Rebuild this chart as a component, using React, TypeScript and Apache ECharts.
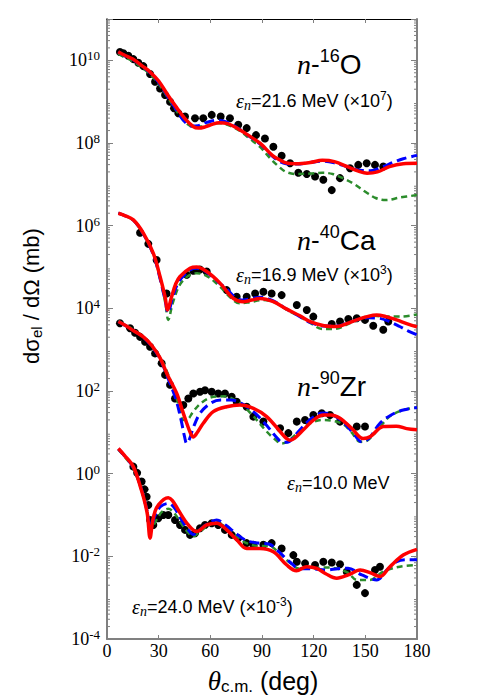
import React, { useEffect, useRef } from 'react';
import * as echarts from 'echarts';

// All cross-section values are stored as log10(dσ/dΩ in mb), angles in degrees.
// n-16O, 21.6 MeV (x1e7)
const O_ptsDeg = [7.5, 9.5, 12.4, 15.3, 18.2, 21.1, 25, 27.9, 30.8, 33.7, 36.6, 38.9, 41.4, 45.3, 51.1, 55.9, 60.8, 66, 71.4, 76.2, 81.1, 86.5, 91.7, 96.6, 101.4, 106.3, 111.1, 116, 120.8, 125.6, 130.5, 135.3, 141.1, 145.9, 150.8, 155.6, 160.4];
const O_ptsLog = [10.2, 10.17, 10.11, 10.03, 9.94, 9.86, 9.67, 9.48, 9.32, 9.16, 9.0, 8.84, 8.72, 8.64, 8.6, 8.6, 8.68, 8.64, 8.6, 8.44, 8.36, 8.19, 8.11, 7.91, 7.69, 7.51, 7.28, 7.25, 7.19, 7.11, 6.86, 7.15, 7.39, 7.47, 7.51, 7.47, 7.43];
const O_redDeg = [6.5, 10, 15, 21, 25, 30, 35, 40, 45, 50, 53, 57, 61, 65, 70, 77, 83, 89, 96, 100, 104, 110, 118, 125, 132, 140, 146, 151, 157, 164, 172, 180];
const O_redLog = [10.21, 10.13, 10.03, 9.85, 9.72, 9.5, 9.18, 8.88, 8.6, 8.4, 8.36, 8.39, 8.45, 8.49, 8.47, 8.32, 8.16, 7.99, 7.7, 7.6, 7.52, 7.5, 7.53, 7.58, 7.55, 7.42, 7.32, 7.27, 7.3, 7.43, 7.5, 7.51];
const O_blueDeg = [6.5, 10, 15, 21, 25, 30, 35, 40, 45, 49, 53, 58, 64, 70, 77, 83, 89, 96, 100, 104, 110, 118, 125, 132, 140, 147, 153, 160, 166, 172, 180];
const O_blueLog = [10.2, 10.12, 10.02, 9.84, 9.7, 9.47, 9.14, 8.82, 8.52, 8.41, 8.42, 8.5, 8.55, 8.5, 8.33, 8.15, 7.97, 7.68, 7.56, 7.5, 7.49, 7.53, 7.56, 7.52, 7.42, 7.34, 7.33, 7.42, 7.53, 7.62, 7.7];
const O_greenDeg = [6.5, 10, 15, 21, 25, 30, 35, 40, 45, 50, 55, 60, 65, 70, 77, 83, 89, 95, 100, 104, 110, 118, 125, 131, 137, 143, 150, 156, 162, 170, 180];
const O_greenLog = [10.16, 10.08, 9.98, 9.8, 9.66, 9.43, 9.12, 8.8, 8.52, 8.4, 8.4, 8.45, 8.48, 8.44, 8.3, 8.1, 7.9, 7.62, 7.42, 7.3, 7.25, 7.26, 7.28, 7.25, 7.15, 7.02, 6.82, 6.67, 6.62, 6.68, 6.74];

// n-40Ca, 16.9 MeV (x1e3)
const Ca_ptsDeg = [19.2, 24, 28.8, 34.6, 46.3, 50.1, 54, 57.9, 69.5, 75.3, 81.1, 86, 90.8, 95.6, 101.4, 110.2, 116, 119.8, 130.5, 135.3, 140.1, 145, 149.8, 154.6, 160.4, 163.3];
const Ca_ptsLog = [5.83, 5.56, 5.17, 4.36, 4.81, 4.91, 4.94, 4.89, 4.44, 4.28, 4.28, 4.36, 4.4, 4.36, 4.32, 4.08, 3.96, 3.8, 3.62, 3.68, 3.74, 3.76, 3.72, 3.58, 3.48, 3.68];
const Ca_redDeg = [6.6, 10, 15.3, 21.1, 26.9, 30.8, 33.7, 35.2, 37.5, 40, 42.4, 48.2, 52.1, 57.9, 65.6, 73.3, 79.1, 84, 88.8, 96.6, 104.4, 112, 118, 126, 133.4, 140, 145, 151, 156.6, 162, 168.2, 174, 180];
const Ca_redLog = [6.3, 6.25, 6.14, 5.82, 5.33, 4.77, 4.28, 3.96, 4.28, 4.6, 4.77, 4.97, 5.0, 4.89, 4.61, 4.24, 4.16, 4.2, 4.24, 4.16, 3.98, 3.82, 3.68, 3.58, 3.56, 3.64, 3.72, 3.8, 3.84, 3.8, 3.72, 3.63, 3.55];
const Ca_blueDeg = [6.6, 10, 15.3, 21.1, 26.9, 30.8, 33.7, 35.5, 38, 40.5, 43, 48.2, 52.1, 58, 65.6, 70, 74, 79, 84, 89, 96.6, 104.4, 112, 118, 126, 133.4, 140, 146, 152, 158, 164, 170, 175, 180];
const Ca_blueLog = [6.3, 6.25, 6.13, 5.8, 5.3, 4.72, 4.2, 3.9, 4.25, 4.55, 4.72, 4.93, 4.97, 4.87, 4.6, 4.45, 4.28, 4.2, 4.24, 4.27, 4.18, 3.98, 3.8, 3.66, 3.57, 3.57, 3.65, 3.73, 3.77, 3.76, 3.68, 3.56, 3.45, 3.36];
const Ca_greenDeg = [6.6, 15, 21, 27, 31, 34, 35.6, 38, 42, 47, 52, 58, 65, 72, 77, 83, 90, 97, 105, 112, 118, 125, 132, 140, 148, 155, 162, 170, 180];
const Ca_greenLog = [6.3, 6.14, 5.8, 5.3, 4.7, 4.1, 3.72, 4.1, 4.55, 4.78, 4.85, 4.78, 4.55, 4.25, 4.12, 4.15, 4.2, 4.15, 3.95, 3.8, 3.65, 3.5, 3.5, 3.62, 3.75, 3.82, 3.8, 3.8, 3.85];

// n-90Zr, 10.0 MeV
const Zr_ptsDeg = [7.5, 13.4, 16.3, 19.2, 22.1, 25, 27.9, 31.7, 33.7, 36.6, 39.5, 44.3, 47.2, 50.1, 54, 56.9, 60.8, 64.6, 68.5, 72.4, 75.3, 81.1, 85, 90.8, 100.5, 105.3, 110.2, 115, 119.8, 124.7, 129.5, 135.3, 145, 149.8];
const Zr_ptsLog = [3.64, 3.52, 3.41, 3.31, 3.19, 3.07, 2.91, 2.67, 2.39, 2.15, 1.82, 1.66, 1.82, 1.94, 1.98, 2.02, 1.98, 1.94, 1.94, 1.86, 1.74, 1.62, 1.38, 1.26, 1.1, 0.98, 1.26, 1.3, 1.42, 1.46, 1.42, 1.26, 1.14, 1.14];
const Zr_redDeg = [6.6, 10, 15, 21.1, 26, 30.8, 35, 40.5, 44, 46.3, 48.5, 50.1, 52, 55.9, 61.7, 69.5, 77.2, 85, 92.7, 100.5, 104, 106.3, 109, 114, 120, 125.6, 130, 135.3, 142, 148.8, 153, 160.4, 168, 174, 180];
const Zr_redLog = [3.68, 3.6, 3.47, 3.31, 3.1, 2.8, 2.4, 1.94, 1.5, 1.22, 0.98, 0.89, 0.97, 1.22, 1.5, 1.62, 1.66, 1.58, 1.38, 1.02, 0.86, 0.81, 0.86, 1.06, 1.3, 1.42, 1.42, 1.34, 1.1, 0.85, 0.9, 1.14, 1.15, 1.09, 1.06];
const Zr_blueDeg = [6.6, 10, 15, 21.1, 26, 30.8, 35, 40, 43, 45, 46.3, 48, 50, 54, 60, 66, 72, 78, 85, 92, 98, 102, 105, 109, 114, 120, 125.6, 131, 137, 143, 147.8, 152, 158.5, 165, 172, 180];
const Zr_blueLog = [3.68, 3.6, 3.47, 3.3, 3.08, 2.78, 2.35, 1.8, 1.3, 0.9, 0.73, 0.85, 1.1, 1.46, 1.7, 1.78, 1.78, 1.7, 1.5, 1.2, 0.9, 0.76, 0.76, 0.92, 1.15, 1.38, 1.47, 1.42, 1.25, 0.98, 0.77, 0.85, 1.22, 1.42, 1.54, 1.6];
const Zr_greenDeg = [6.6, 10, 15, 21, 26, 31, 35, 39, 42, 44.3, 47, 50, 55, 62, 68, 75, 83, 92.7, 97, 101.4, 105, 111, 118, 125.6, 131, 137, 142, 147, 151, 157, 164, 172, 180];
const Zr_greenLog = [3.7, 3.62, 3.49, 3.32, 3.1, 2.8, 2.45, 2.0, 1.6, 1.3, 1.32, 1.5, 1.72, 1.86, 1.87, 1.76, 1.48, 1.02, 0.85, 0.73, 0.78, 1.0, 1.22, 1.3, 1.28, 1.2, 1.0, 0.77, 0.8, 1.05, 1.38, 1.54, 1.6];

// 24.0 MeV (x1e-3)
const E_ptsDeg = [15.3, 17.5, 20.1, 21.8, 23, 24, 25, 26.9, 29.8, 32.7, 35.6, 39.5, 42.4, 45.3, 48.2, 51.1, 54, 56.9, 60.8, 64.6, 68.5, 72.4, 76.2, 81.1, 85, 90.8, 95.6, 101.4, 108.2, 110.2, 115, 120.8, 125.6, 130.5, 135.3, 139.2, 145, 149.8, 155.6, 158.5];
const E_ptsLog = [0.17, 0.02, -0.19, -0.38, -0.56, -0.76, -1.12, -1.24, -1.08, -1.0, -1.0, -1.12, -1.24, -1.36, -1.48, -1.44, -1.32, -1.24, -1.2, -1.24, -1.36, -1.48, -1.56, -1.68, -1.72, -1.72, -1.68, -1.81, -1.97, -2.13, -2.17, -2.21, -2.13, -2.15, -2.19, -2.37, -2.69, -2.89, -2.33, -2.25];
const E_redDeg = [6.6, 10, 15.3, 20, 22, 23.5, 25, 26.5, 28, 30, 33, 35.6, 38, 41.4, 47.2, 52.1, 57.9, 63.7, 69.5, 75.3, 81.1, 88.8, 96.6, 104.4, 110, 116, 121.8, 127, 133.4, 140.1, 147, 153, 158.5, 164.3, 172, 180];
const E_redLog = [0.61, 0.45, 0.17, -0.4, -0.7, -1.0, -1.56, -1.15, -0.9, -0.75, -0.62, -0.58, -0.65, -0.88, -1.24, -1.4, -1.24, -1.2, -1.36, -1.6, -1.81, -1.81, -1.89, -2.21, -2.35, -2.25, -2.29, -2.42, -2.53, -2.45, -2.33, -2.4, -2.49, -2.25, -1.97, -1.83];
const E_blueDeg = [6.6, 10, 15.3, 20, 23, 25.5, 28, 31, 35.6, 39, 43, 47, 50, 54, 59, 63.7, 69, 75, 81, 88, 94, 100, 106, 112, 118, 127.6, 134, 140, 147.9, 156.6, 162, 168.2, 174, 180];
const E_blueLog = [0.6, 0.44, 0.15, -0.38, -0.85, -1.28, -1.0, -0.8, -0.72, -0.82, -1.1, -1.35, -1.47, -1.35, -1.2, -1.12, -1.25, -1.45, -1.62, -1.68, -1.7, -1.9, -2.13, -2.3, -2.3, -2.33, -2.3, -2.29, -2.45, -2.57, -2.35, -2.13, -2.08, -2.08];
const E_greenDeg = [6.6, 10, 15.3, 20, 23, 26, 29, 32, 35.6, 39, 43, 47, 50, 54, 59, 63.7, 69, 75, 81, 88, 94, 100, 106, 112, 118, 127, 134, 140, 145, 152.7, 160.4, 170, 180];
const E_greenLog = [0.58, 0.42, 0.13, -0.4, -0.85, -1.3, -1.1, -0.92, -0.85, -0.95, -1.2, -1.42, -1.52, -1.4, -1.25, -1.18, -1.3, -1.5, -1.68, -1.75, -1.75, -1.92, -2.15, -2.3, -2.3, -2.27, -2.3, -2.4, -2.57, -2.57, -2.37, -2.25, -2.21];

const yExpTicks = [-4, -2, 0, 2, 4, 6, 8, 10];
const xTicks = [0, 30, 60, 90, 120, 150, 180];

const RED = '#ff0000';
const BLUE = '#0000ff';
const GREEN = '#2b8c2b';
const SANS = 'Liberation Sans';
const SERIF = 'Liberation Serif';

const toPairs = (deg: number[], lg: number[]) => deg.map((d, i) => [d, Math.pow(10, lg[i])]);

const curve = (deg: number[], lg: number[], color: string, width: number, type: any, z: number) => ({
  type: 'line',
  xAxisIndex: 0,
  yAxisIndex: 0,
  data: toPairs(deg, lg),
  symbol: 'none',
  showSymbol: false,
  smooth: 0.35,
  lineStyle: { color, width, type },
  z,
  silent: true,
});

const dots = (deg: number[], lg: number[]) => ({
  type: 'scatter',
  xAxisIndex: 0,
  yAxisIndex: 0,
  data: toPairs(deg, lg),
  symbolSize: 8,
  itemStyle: { color: '#000', opacity: 1 },
  z: 2,
  silent: true,
});

const minorVals: number[][] = [];
for (let d = -4; d < 11; d++) {
  for (let k = 2; k <= 9; k++) minorVals.push([0, k * Math.pow(10, d)]);
}

const bigRich = {
  n: { fontFamily: SERIF, fontStyle: 'italic', fontSize: 28, lineHeight: 34, color: '#000' },
  d: { fontFamily: SANS, fontSize: 26, lineHeight: 34, color: '#000' },
  s: { fontFamily: SANS, fontSize: 18, verticalAlign: 'top', color: '#000' },
  m: { fontFamily: SANS, fontSize: 28, lineHeight: 34, color: '#000' },
};
const epsRich = {
  e: { fontFamily: SERIF, fontStyle: 'italic', fontSize: 20, lineHeight: 22, color: '#000' },
  sub: { fontFamily: SERIF, fontStyle: 'italic', fontSize: 14, verticalAlign: 'bottom', color: '#000' },
  t: { fontFamily: SANS, fontSize: 18, lineHeight: 22, color: '#000' },
  sp: { fontFamily: SANS, fontSize: 12, verticalAlign: 'top', color: '#000' },
};

const txt = (x: number, y: number, text: string, rich: any) => ({
  type: 'text',
  x,
  y,
  z: 100,
  style: { text, rich, align: 'left', verticalAlign: 'middle' },
});

export default function App() {
  const ref = useRef<HTMLDivElement>(null);
  useEffect(() => {
    if (!ref.current) return;
    const chart = echarts.init(ref.current, undefined, { renderer: 'svg' });
    const option: any = {
      animation: false,
      backgroundColor: '#fff',
      grid: { left: 107, right: 83, top: 19, bottom: 61, containLabel: false },
      xAxis: [
        {
          type: 'value', min: xTicks[0], max: xTicks[xTicks.length - 1], interval: 30, position: 'bottom',
          axisLine: { show: true, onZero: false, lineStyle: { color: '#808080', width: 2 } },
          axisTick: { show: true, inside: true, length: 4, lineStyle: { color: '#808080', width: 1 } },
          axisLabel: { fontFamily: SERIF, fontSize: 18, color: '#000', margin: 3 },
          splitLine: { show: false },
        },
        {
          type: 'value', min: 0, max: 180, interval: 30, position: 'top',
          axisLine: { show: true, onZero: false, lineStyle: { color: '#000', width: 1 } },
          axisTick: { show: true, inside: true, length: 4, lineStyle: { color: '#808080', width: 1 } },
          axisLabel: { show: false },
          splitLine: { show: false },
        },
      ],
      yAxis: [
        { type: 'log', logBase: 10, min: 1e-4, max: 1e11, show: false, axisLine: { onZero: false }, splitLine: { show: false } },
        {
          type: 'value', min: yExpTicks[0], max: 11, interval: 2, position: 'left',
          axisLine: { show: true, onZero: false, lineStyle: { color: '#808080', width: 2 } },
          axisTick: { show: true, inside: true, length: 6, lineStyle: { color: '#808080', width: 1 } },
          axisLabel: {
            margin: 7,
            formatter: (v: number) => {
              const e = Math.round(v);
              if (!yExpTicks.includes(e)) return '';
              return '{b|10}{s|' + e + '}';
            },
            rich: {
              b: { fontFamily: SERIF, fontSize: 18, lineHeight: 22, color: '#000' },
              s: { fontFamily: SERIF, fontSize: 13, verticalAlign: 'top', color: '#000' },
            },
          },
          splitLine: { show: false },
        },
        {
          type: 'value', min: -4, max: 11, interval: 2, position: 'right',
          axisLine: { show: true, onZero: false, lineStyle: { color: '#808080', width: 2 } },
          axisTick: { show: true, inside: true, length: 6, lineStyle: { color: '#808080', width: 1 } },
          axisLabel: { show: false },
          splitLine: { show: false },
        },
      ],
      series: [
        {
          type: 'custom',
          xAxisIndex: 0,
          yAxisIndex: 0,
          data: minorVals,
          silent: true,
          z: 1,
          renderItem: (params: any, api: any) => {
            const v = api.value(1);
            const l = api.coord([0, v]);
            const r = api.coord([180, v]);
            return {
              type: 'group',
              children: [
                { type: 'line', shape: { x1: l[0], y1: l[1], x2: l[0] + 3, y2: l[1] }, style: { stroke: '#808080', lineWidth: 1 } },
                { type: 'line', shape: { x1: r[0] - 3, y1: r[1], x2: r[0], y2: r[1] }, style: { stroke: '#808080', lineWidth: 1 } },
              ],
            };
          },
        },
        dots(O_ptsDeg, O_ptsLog),
        dots(Ca_ptsDeg, Ca_ptsLog),
        dots(Zr_ptsDeg, Zr_ptsLog),
        dots(E_ptsDeg, E_ptsLog),
        curve(O_greenDeg, O_greenLog, GREEN, 2.5, [6, 4], 3),
        curve(Ca_greenDeg, Ca_greenLog, GREEN, 2.5, [6, 4], 3),
        curve(Zr_greenDeg, Zr_greenLog, GREEN, 2.5, [6, 4], 3),
        curve(E_greenDeg, E_greenLog, GREEN, 2.5, [6, 4], 3),
        curve(O_blueDeg, O_blueLog, BLUE, 3, [10, 5], 4),
        curve(Ca_blueDeg, Ca_blueLog, BLUE, 3, [10, 5], 4),
        curve(Zr_blueDeg, Zr_blueLog, BLUE, 3, [10, 5], 4),
        curve(E_blueDeg, E_blueLog, BLUE, 3, [10, 5], 4),
        curve(O_redDeg, O_redLog, RED, 3.5, 'solid', 5),
        curve(Ca_redDeg, Ca_redLog, RED, 3.5, 'solid', 5),
        curve(Zr_redDeg, Zr_redLog, RED, 3.5, 'solid', 5),
        curve(E_redDeg, E_redLog, RED, 3.5, 'solid', 5),
      ],
      graphic: [
        txt(297, 64, '{n|n}{d|-}{s|16}{m|O}', bigRich),
        txt(236, 101, '{e|ε}{sub|n}{t|=21.6 MeV (×10}{sp|7}{t|)}', epsRich),
        txt(297, 240, '{n|n}{d|-}{s|40}{m|Ca}', bigRich),
        txt(236, 275, '{e|ε}{sub|n}{t|=16.9 MeV (×10}{sp|3}{t|)}', epsRich),
        txt(297, 386, '{n|n}{d|-}{s|90}{m|Zr}', bigRich),
        txt(287, 483, '{e|ε}{sub|n}{t|=10.0 MeV}', epsRich),
        txt(132, 607, '{e|ε}{sub|n}{t|=24.0 MeV (×10}{sp|-3}{t|)}', epsRich),
        {
          type: 'text',
          x: 263,
          y: 681,
          z: 100,
          style: {
            text: '{th|θ}{sub|c.m.}{t| (deg)}',
            align: 'center',
            verticalAlign: 'middle',
            rich: {
              th: { fontFamily: SERIF, fontStyle: 'italic', fontSize: 27, lineHeight: 28, color: '#000' },
              sub: { fontFamily: SANS, fontSize: 17, verticalAlign: 'bottom', color: '#000' },
              t: { fontFamily: SANS, fontSize: 25, lineHeight: 28, color: '#000' },
            },
          },
        },
        {
          type: 'text',
          x: 31,
          y: 296,
          rotation: Math.PI / 2,
          z: 100,
          style: {
            text: '{t|dσ}{sub|el}{t| / dΩ (mb)}',
            align: 'center',
            verticalAlign: 'middle',
            rich: {
              t: { fontFamily: SANS, fontSize: 22, lineHeight: 26, color: '#000' },
              sub: { fontFamily: SANS, fontSize: 15, verticalAlign: 'bottom', color: '#000' },
            },
          },
        },
      ],
    };
    chart.setOption(option);
    return () => chart.dispose();
  }, []);
  return <div ref={ref} style={{ position: 'absolute', left: 0, top: 0, width: 500, height: 700, background: '#fff' }} />;
}
